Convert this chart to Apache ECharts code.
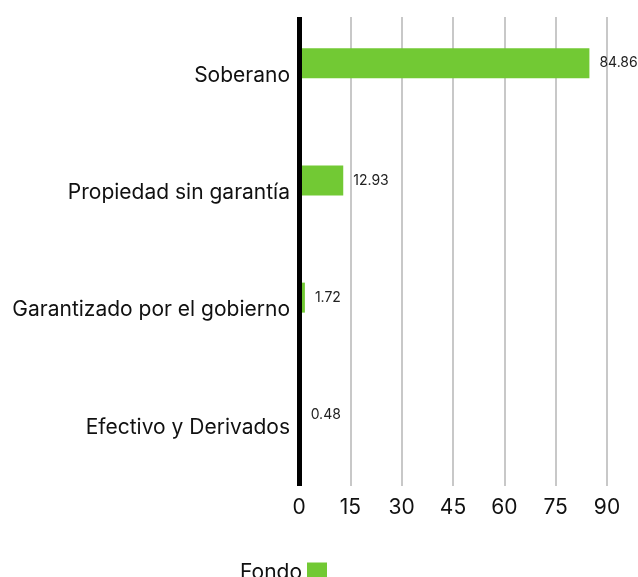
<!DOCTYPE html>
<html>
<head>
<meta charset="utf-8">
<title>Fondo</title>
<script src="https://cdn.jsdelivr.net/npm/echarts@6/dist/echarts.min.js"></script>
<style>
  html,body{margin:0;padding:0;background:#fff}
  #chart{width:638px;height:577px}
</style>
</head>
<body>
<div id="chart"></div>
<script>
var categories = ['Soberano', 'Propiedad sin garantía', 'Garantizado por el gobierno', 'Efectivo y Derivados'];
var fondo = [84.86, 12.93, 1.72, 0.48];
var xTicks = [0, 15, 30, 45, 60, 75, 90];

var myChart = echarts.init(document.getElementById('chart'));
var font = 'Inter, "Noto Sans", sans-serif';
var option = {
  animation: false,
  grid: { left: 299, right: 31, top: 17, bottom: 91, containLabel: false },
  legend: {
    data: ['Fondo'],
    left: 235, top: 557,
    itemWidth: 20, itemHeight: 20,
    itemGap: 10,
    align: 'right',
    icon: 'rect',
    textStyle: { fontFamily: font, fontSize: 21, color: '#111' }
  },
  xAxis: {
    type: 'value',
    min: xTicks[0], max: xTicks[xTicks.length - 1], interval: 15,
    axisLine: { show: false },
    axisTick: { show: false },
    splitLine: { lineStyle: { color: '#c8c8c8', width: 2 } },
    axisLabel: { fontFamily: font, fontSize: 21, color: '#111', margin: 11 }
  },
  yAxis: {
    type: 'category',
    inverse: true,
    z: 10,
    data: categories,
    axisLine: { lineStyle: { color: '#000', width: 5, cap: 'butt' } },
    axisTick: { show: false },
    axisLabel: { fontFamily: font, fontSize: 21, color: '#111', margin: 9 }
  },
  series: [
    {
      name: 'Fondo', type: 'bar', data: fondo,
      barWidth: 30, barGap: '0%',
      itemStyle: { color: '#72c934' },
      label: { show: true, position: 'right', distance: 10, fontFamily: font, fontSize: 14, color: '#222',
               formatter: function (p) { return p.value.toFixed(2); } }
    },
    {
      name: 'placeholder', type: 'bar', data: [null, null, null, null],
      barWidth: 25
    }
  ]
};
myChart.setOption(option);
</script>
</body>
</html>
